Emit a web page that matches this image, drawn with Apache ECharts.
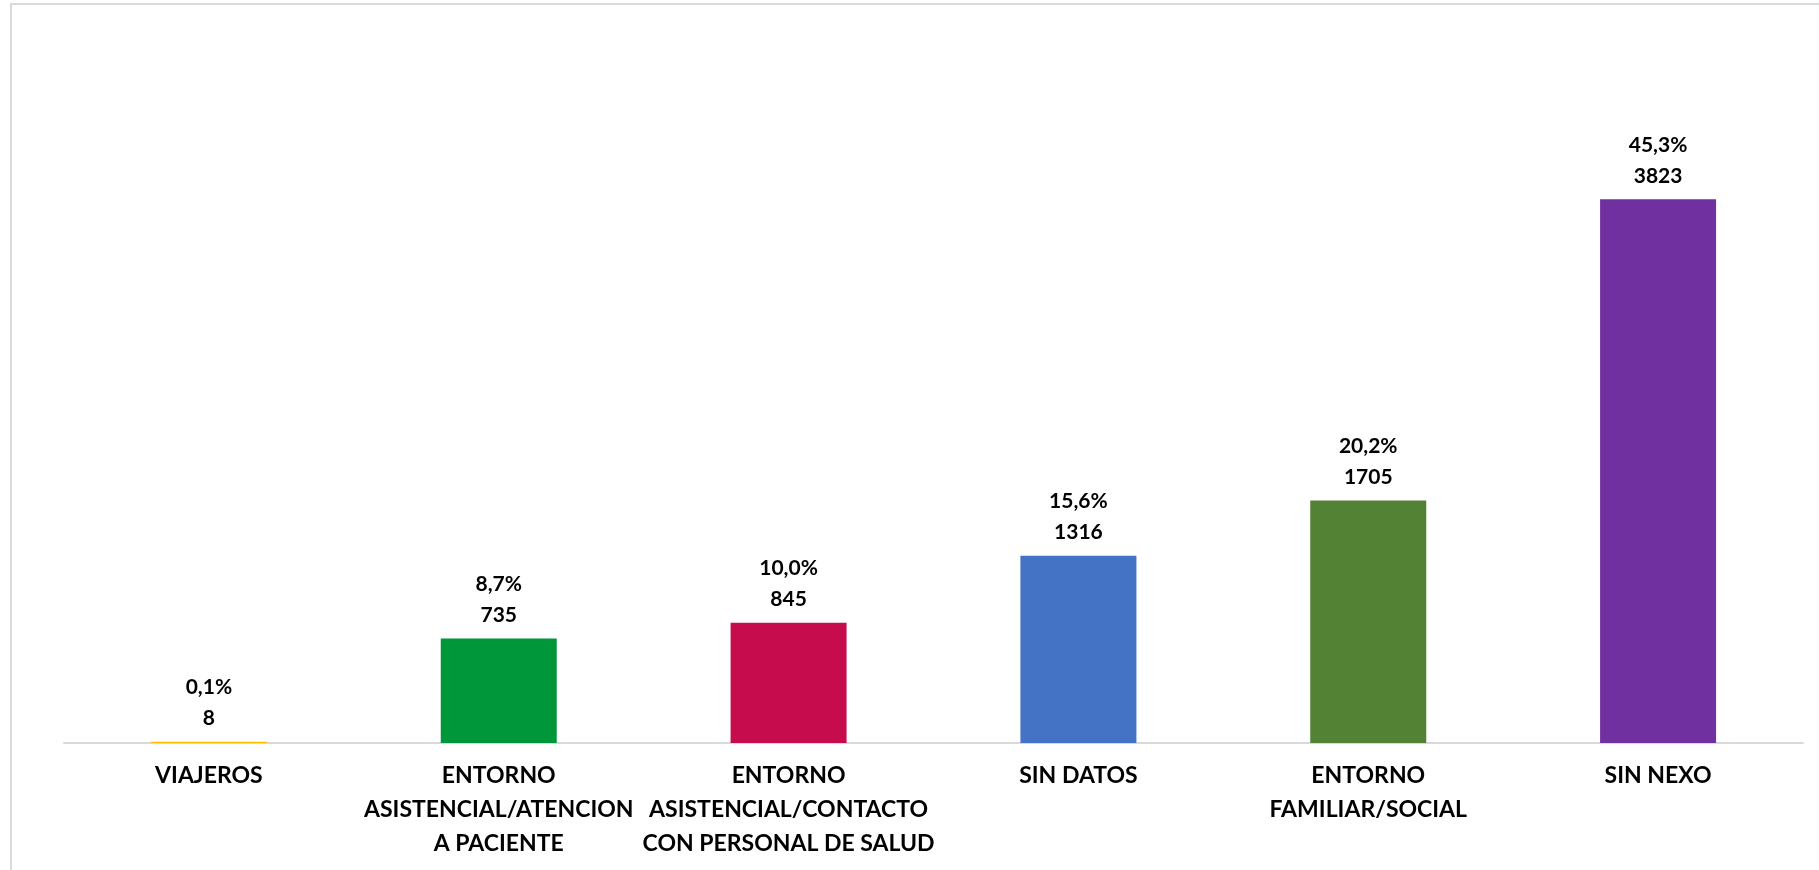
<!DOCTYPE html>
<html>
<head>
<meta charset="utf-8">
<script src="https://cdn.jsdelivr.net/npm/echarts@6/dist/echarts.min.js"></script>
<style>
  html, body { margin: 0; padding: 0; background: #ffffff; }
  #chart { width: 1819px; height: 870px; }
</style>
</head>
<body>
<div id="chart"></div>
<script>
// Cases by transmission setting
const categories = [
  'VIAJEROS',
  'ENTORNO\nASISTENCIAL/ATENCION\nA PACIENTE',
  'ENTORNO\nASISTENCIAL/CONTACTO\nCON PERSONAL DE SALUD',
  'SIN DATOS',
  'ENTORNO\nFAMILIAR/SOCIAL',
  'SIN NEXO'
];
const counts = [8, 735, 845, 1316, 1705, 3823];
const percents = ['0,1%', '8,7%', '10,0%', '15,6%', '20,2%', '45,3%'];
const barColors = ['#FFC000', '#00963A', '#C60C4C', '#4472C4', '#548235', '#7030A0'];

const FONT = 'Lato, "Open Sans", sans-serif';

const chart = echarts.init(document.getElementById('chart'));
chart.setOption({
  backgroundColor: '#ffffff',
  animation: false,
  graphic: [{
    type: 'rect',
    shape: { x: 11, y: 4, width: 1840, height: 900 },
    style: { fill: 'none', stroke: '#d9d9d9', lineWidth: 2 },
    silent: true,
    z: 100
  }],
  grid: { left: 64, right: 16, top: 103, bottom: 127, containLabel: false },
  xAxis: {
    type: 'category',
    data: categories,
    axisLine: { show: true, lineStyle: { color: '#d9d9d9', width: 2 } },
    axisTick: { show: false },
    axisLabel: {
      interval: 0,
      margin: 16,
      color: '#000000',
      fontFamily: FONT,
      fontWeight: 'bold',
      fontSize: 23,
      lineHeight: 34,
      align: 'center'
    }
  },
  yAxis: {
    type: 'value',
    min: 0,
    max: 4500,
    show: false,
    splitLine: { show: false }
  },
  series: [{
    type: 'bar',
    barWidth: 116,
    data: counts.map((v, i) => ({ value: v, itemStyle: { color: barColors[i] } })),
    label: {
      show: true,
      position: 'top',
      distance: 8,
      color: '#000000',
      fontFamily: FONT,
      fontWeight: 'bold',
      fontSize: 21,
      lineHeight: 31,
      align: 'center',
      formatter: p => percents[p.dataIndex] + '\n' + p.value
    }
  }]
});
</script>
</body>
</html>
